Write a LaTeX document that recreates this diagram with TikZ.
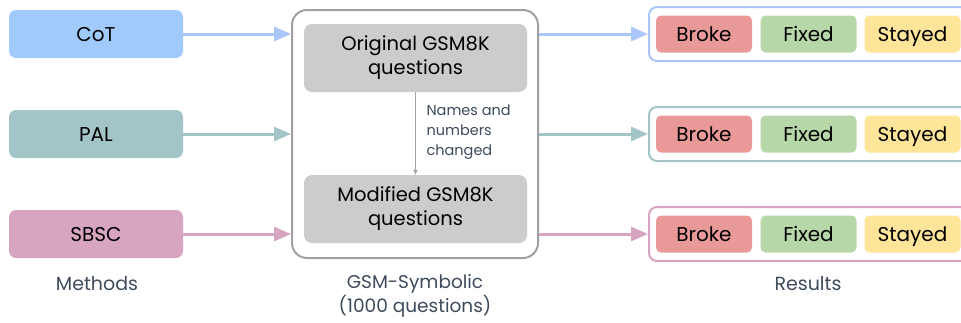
\documentclass[tikz,border=0pt]{standalone}
\usepackage{fontspec}
\setmainfont{Poppins}
\usetikzlibrary{arrows.meta,positioning}
\definecolor{cotblue}{HTML}{A1CAFC}
\definecolor{cotline}{HTML}{AAC6FA}
\definecolor{palteal}{HTML}{A3C5C8}
\definecolor{sbscpink}{HTML}{D7A5BF}
\definecolor{brokered}{HTML}{EA9999}
\definecolor{fixedgreen}{HTML}{B6D7A8}
\definecolor{stayedyellow}{HTML}{FFE599}
\definecolor{qgray}{HTML}{CCCCCC}
\definecolor{framegray}{HTML}{A0A0A0}
\definecolor{slate}{HTML}{3D4B5C}

\begin{document}
\begin{tikzpicture}[x=1pt,y=-1pt,
  method/.style={rounded corners=7pt, minimum width=174pt, minimum height=48pt,
    inner sep=0pt, text height=14pt, text depth=0pt,
    font=\fontsize{20}{23}\selectfont},
  question/.style={fill=qgray, rounded corners=8pt, minimum width=223pt,
    minimum height=68pt, inner sep=0pt, align=center,
    font=\fontsize{19.5}{24}\selectfont},
  outcome/.style={rounded corners=5pt, minimum width=96pt, minimum height=37pt,
    inner sep=0pt, text height=14pt, text depth=0pt,
    font=\fontsize{20}{23}\selectfont},
  resbox/.style={draw, line width=2pt, rounded corners=8pt, minimum width=330pt,
    minimum height=54pt, inner sep=0pt, anchor=west},
  caption/.style={text=slate, align=center, font=\fontsize{19}{24}\selectfont},
  feed/.style={line width=3pt, -{Triangle[length=17pt,width=14pt]}}]
\clip (0,0) rectangle (961,322);
% методы
\node [method, fill=cotblue] (cot) at (96,34) {CoT};
\node [method, fill=palteal] (pal) at (96,134) {PAL};
\node [method, fill=sbscpink] (sbsc) at (96,234) {SBSC};
\node [caption] (methods) at (97,284) {Methods};
% GSM-Symbolic
\node [draw=framegray, line width=2pt, rounded corners=15pt, minimum width=246pt,
  minimum height=248pt] (gsm) at (415,134) {};
\node [question] (orig) at (415.5,58) {Original GSM8K\\questions};
\node [question] (modif) at (415.5,209) {Modified GSM8K\\questions};
\draw [qgray!80!black, line width=0.8pt, -{Triangle[length=5pt,width=4pt]}]
  (orig) -- (modif);
\node [caption, anchor=west, align=left, font=\fontsize{14.5}{20}\selectfont]
  (change) at (423,132) {Names and\\numbers\\changed};
\node [caption, font=\fontsize{18.5}{24}\selectfont] (gsmlabel) at (415,296)
  {GSM-Symbolic\\(1000 questions)};
% результаты
\foreach \name/\y/\col in {cot/34/cotline, pal/134/palteal, sbsc/234/sbscpink} {
  \node [resbox, draw=\col] (res-\name) at (648,\y) {};
  \node [outcome, fill=brokered] (broke-\name) at (704,\y) {Broke};
  \node [outcome, fill=fixedgreen] (fixed-\name) at (808.5,\y) {Fixed};
  \node [outcome, fill=stayedyellow] (stayed-\name) at (912.5,\y) {Stayed};
  \draw [feed, \col] (\name) -- (gsm.west |- \name);
  \draw [feed, \col] (gsm.east |- res-\name) -- (res-\name);
}
\node [caption] (results) at (808,284) {Results};
\end{tikzpicture}
\end{document}
